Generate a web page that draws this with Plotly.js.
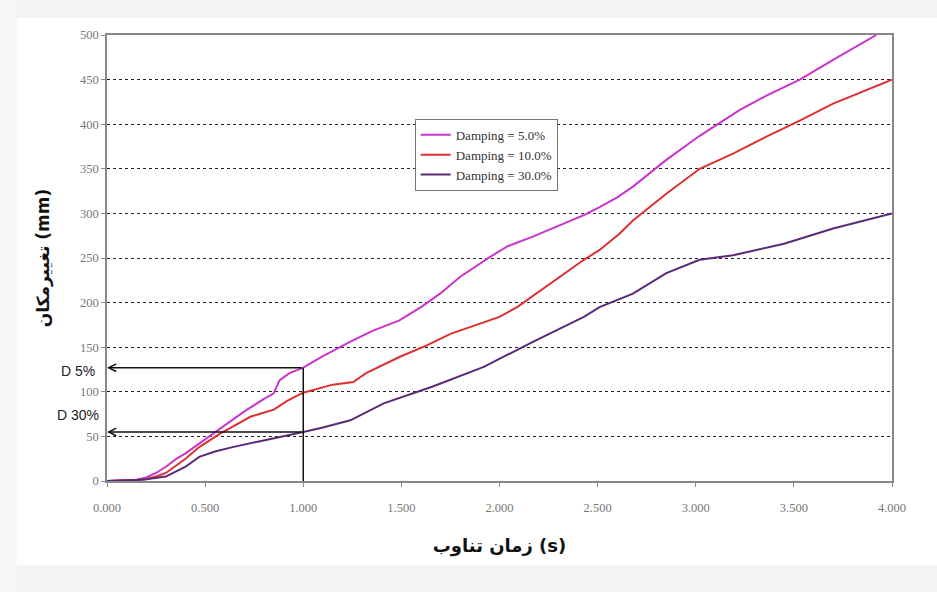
<!DOCTYPE html>
<html>
<head>
<meta charset="utf-8">
<script src="https://cdn.plot.ly/plotly-3.0.1.min.js"></script>
<style>html,body{margin:0;padding:0;background:#fff;}#chart{width:937px;height:592px;}</style>
</head>
<body>
<div id="chart"></div>
<script>
// Series: time (s) vs displacement (mm)
const time5 = [0, 0.10, 0.15, 0.20, 0.25, 0.30, 0.355, 0.40, 0.45, 0.525, 0.60, 0.70, 0.80, 0.848, 0.88, 0.93, 1.00, 1.10, 1.238, 1.35, 1.49, 1.60, 1.697, 1.80, 1.95, 2.04, 2.17, 2.30, 2.43, 2.51, 2.60, 2.68, 2.85, 3.02, 3.225, 3.36, 3.53, 3.70, 3.80, 3.92];
const disp5 = [0, 0.5, 1.5, 4, 9, 16, 25, 31, 39, 50, 62, 78, 92, 98, 113, 121, 127, 140, 156, 168, 180, 195, 210, 229, 251, 263, 274, 286, 298, 307, 318, 330, 360, 387, 416, 432, 450, 472, 485, 500];

const time10 = [0, 0.10, 0.15, 0.20, 0.25, 0.30, 0.40, 0.47, 0.576, 0.65, 0.73, 0.85, 0.92, 1.00, 1.15, 1.255, 1.32, 1.49, 1.63, 1.75, 2.00, 2.09, 2.26, 2.43, 2.51, 2.61, 2.68, 2.85, 3.02, 3.19, 3.36, 3.53, 3.70, 3.87, 4.00];
const disp10 = [0, 0.3, 1, 2, 5, 9, 25, 38, 53, 62, 72, 80, 90, 99, 108, 111, 121, 139, 152, 165, 184, 195, 222, 248, 259, 277, 292, 322, 350, 367, 386, 404, 423, 438, 450];

const time30 = [0, 0.10, 0.15, 0.20, 0.30, 0.40, 0.47, 0.55, 0.64, 0.81, 0.90, 1.00, 1.10, 1.24, 1.41, 1.66, 1.92, 2.17, 2.43, 2.51, 2.68, 2.85, 3.02, 3.19, 3.45, 3.70, 4.00];
const disp30 = [0, 0.3, 1, 2, 5, 16, 27, 33, 38, 46, 50, 55, 60, 68, 87, 106, 128, 156, 184, 195, 210, 233, 248, 253, 266, 283, 300];

const seriesNames = ['Damping = 5.0%', 'Damping = 10.0%', 'Damping = 30.0%'];
const seriesColors = ['#cc33cc', '#dd3030', '#5a2a78'];

// Reference markers
const refTime = 1.0;
const d5Value = 127;
const d30Value = 55;
const refLabels = ['D 5%', 'D 30%'];
const refLabelValues = [123, 74];

const xTicks = [0, 0.5, 1.0, 1.5, 2.0, 2.5, 3.0, 3.5, 4.0];
const yTicks = [0, 50, 100, 150, 200, 250, 300, 350, 400, 450, 500];

const xs = [time5, time10, time30];
const ys = [disp5, disp10, disp30];
const traces = xs.map((x, i) => ({
  x: x, y: ys[i], type: 'scatter', mode: 'lines', name: seriesNames[i],
  line: {color: seriesColors[i], width: 2}
}));

const serif = 'Liberation Serif, Times New Roman, serif';
const layout = {
  width: 937, height: 592,
  paper_bgcolor: '#ffffff', plot_bgcolor: '#ffffff',
  margin: {l: 107, r: 45, t: 35, b: 111},
  showlegend: true,
  legend: {
    x: 0.392, y: 0.812, xanchor: 'left', yanchor: 'top',
    bgcolor: '#ffffff', bordercolor: '#777', borderwidth: 1,
    font: {family: serif, size: 13, color: '#333'},
    tracegroupgap: 0, itemwidth: 30
  },
  xaxis: {
    range: [0, 4], tickvals: xTicks, tickformat: '.3f',
    showgrid: false, zeroline: false,
    showline: true, linecolor: '#888', linewidth: 1.5, mirror: true,
    ticks: 'outside', ticklen: 4, tickcolor: '#888', ticklabelstandoff: 10,
    tickfont: {family: serif, size: 12.5, color: '#777'},
    title: {text: 'زمان تناوب (s)', font: {family: 'DejaVu Sans', size: 18, color: '#111', weight: 'bold'}, standoff: 26}
  },
  yaxis: {
    range: [0, 500], tickvals: yTicks,
    showgrid: true, gridcolor: '#222', griddash: 'dot', gridwidth: 1,
    zeroline: false,
    showline: true, linecolor: '#888', linewidth: 1.5, mirror: true,
    ticks: 'outside', ticklen: 4, tickcolor: '#888',
    tickfont: {family: serif, size: 12.5, color: '#777'},
    title: {text: 'تغییرمکان (mm)', font: {family: 'DejaVu Sans', size: 17, color: '#111', weight: 'bold'}, standoff: 26}
  },
  shapes: [
    {type: 'rect', xref: 'paper', yref: 'paper', x0: -0.14, x1: 1.06, y0: 1.038, y1: 1.08, fillcolor: '#f4f4f4', line: {width: 0}, layer: 'below'},
    {type: 'rect', xref: 'paper', yref: 'paper', x0: -0.14, x1: 1.06, y0: -0.25, y1: -0.188, fillcolor: '#f4f4f4', line: {width: 0}, layer: 'below'},
    {type: 'rect', xref: 'paper', yref: 'paper', x0: -0.14, x1: -0.115, y0: -0.25, y1: 1.08, fillcolor: '#f6f6f6', line: {width: 0}, layer: 'below'},
    {type: 'line', xref: 'x', yref: 'y', x0: refTime, x1: refTime, y0: 0, y1: d5Value, line: {color: '#111', width: 1.5}}
  ],
  annotations: [
    {x: 0, y: d5Value, ax: refTime, ay: d5Value, xref: 'x', yref: 'y', axref: 'x', ayref: 'y', text: '', showarrow: true, arrowhead: 5, arrowsize: 1, arrowwidth: 1.5, arrowcolor: '#111'},
    {x: 0, y: d30Value, ax: refTime, ay: d30Value, xref: 'x', yref: 'y', axref: 'x', ayref: 'y', text: '', showarrow: true, arrowhead: 5, arrowsize: 1, arrowwidth: 1.5, arrowcolor: '#111'},
    {x: 0, y: refLabelValues[0], xref: 'x', yref: 'y', text: refLabels[0], showarrow: false, xanchor: 'right', xshift: -10, font: {family: 'Liberation Sans, Arial, sans-serif', size: 14, color: '#222'}},
    {x: 0, y: refLabelValues[1], xref: 'x', yref: 'y', text: refLabels[1], showarrow: false, xanchor: 'right', xshift: -6, font: {family: 'Liberation Sans, Arial, sans-serif', size: 14, color: '#222'}}
  ]
};

Plotly.newPlot('chart', traces, layout, {displayModeBar: false, responsive: false});
</script>
</body>
</html>
